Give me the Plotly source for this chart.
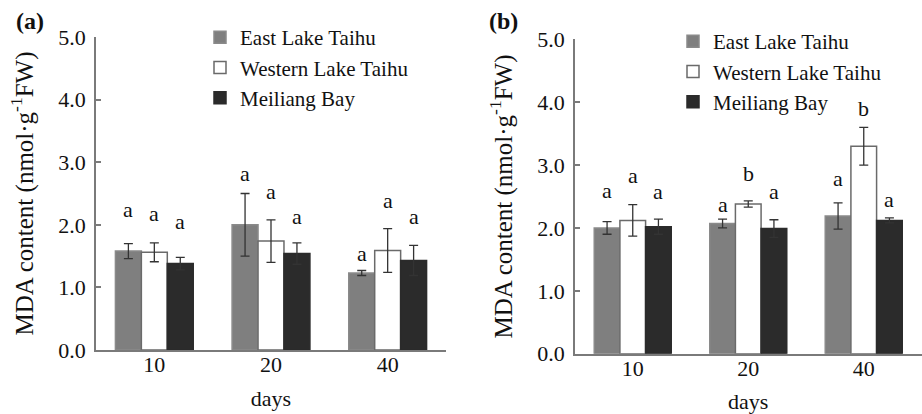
import plotly.graph_objects as go

days = ["10", "20", "40"]
sites = ["East Lake Taihu", "Western Lake Taihu", "Meiliang Bay"]

# Panel (a)
a_east = [1.58, 2.00, 1.23]
a_east_err = [0.12, 0.50, 0.04]
a_west = [1.56, 1.74, 1.59]
a_west_err = [0.15, 0.34, 0.35]
a_meil = [1.38, 1.54, 1.43]
a_meil_err = [0.10, 0.17, 0.24]
a_east_sig = ["a", "a", "a"]
a_west_sig = ["a", "a", "a"]
a_meil_sig = ["a", "a", "a"]
a_east_sig_y = [2.24, 2.82, 1.54]
a_west_sig_y = [2.18, 2.53, 2.39]
a_meil_sig_y = [2.05, 2.14, 2.14]

# Panel (b)
b_east = [2.00, 2.07, 2.19]
b_east_err = [0.10, 0.07, 0.21]
b_west = [2.12, 2.38, 3.30]
b_west_err = [0.25, 0.05, 0.30]
b_meil = [2.02, 1.99, 2.12]
b_meil_err = [0.12, 0.14, 0.04]
b_east_sig = ["a", "a", "a"]
b_west_sig = ["a", "b", "b"]
b_meil_sig = ["a", "a", "a"]
b_east_sig_y = [2.59, 2.38, 2.79]
b_west_sig_y = [2.84, 2.87, 3.90]
b_meil_sig_y = [2.58, 2.58, 2.45]

FONT = "Liberation Serif"
fill_colors = ["#7f7f7f", "#ffffff", "#2b2b2b"]
line_colors = ["#8a8a8a", "#6a6a6a", "#2b2b2b"]
AXIS_COLOR = "#7a7a7a"
ERR_COLOR = "#333333"
TXT = "#111111"
FS = 22
W, H = 922, 414

panels = [
    dict(vals=[a_east, a_west, a_meil], errs=[a_east_err, a_west_err, a_meil_err],
         sig=[a_east_sig, a_west_sig, a_meil_sig], sigy=[a_east_sig_y, a_west_sig_y, a_meil_sig_y],
         xa="x", ya="y", legend="legend"),
    dict(vals=[b_east, b_west, b_meil], errs=[b_east_err, b_west_err, b_meil_err],
         sig=[b_east_sig, b_west_sig, b_meil_sig], sigy=[b_east_sig_y, b_west_sig_y, b_meil_sig_y],
         xa="x2", ya="y2", legend="legend2"),
]

fig = go.Figure()
annotations = []
bargap = 0.333
bar_w = (1 - bargap) / 3
offsets = [-bar_w, 0, bar_w]

for p in panels:
    for k in range(3):
        fig.add_trace(go.Bar(
            x=days, y=p["vals"][k], name=sites[k],
            marker=dict(color=fill_colors[k], line=dict(color=line_colors[k], width=1.5)),
            error_y=dict(type="data", array=p["errs"][k], visible=True,
                         color=ERR_COLOR, thickness=1.3, width=4.5),
            xaxis=p["xa"], yaxis=p["ya"], legend=p["legend"],
        ))
        for i in range(3):
            annotations.append(dict(
                x=i + offsets[k], y=p["sigy"][k][i], text=p["sig"][k][i],
                xref=p["xa"], yref=p["ya"], showarrow=False,
                font=dict(family=FONT, size=FS, color=TXT),
                xanchor="center", yanchor="middle",
            ))

# Panel letters
annotations.append(dict(x=14 / W, y=1 - 21 / H, xref="paper", yref="paper", text="<b>(a)</b>",
                        showarrow=False, xanchor="left", yanchor="middle",
                        font=dict(family=FONT, size=24, color=TXT)))
annotations.append(dict(x=487 / W, y=1 - 21 / H, xref="paper", yref="paper", text="<b>(b)</b>",
                        showarrow=False, xanchor="left", yanchor="middle",
                        font=dict(family=FONT, size=24, color=TXT)))

ytitle = "MDA content (nmol·g<sup>-1</sup>FW)"

def yaxis_cfg(domain, anchor):
    return dict(
        domain=domain, anchor=anchor, range=[0, 5], dtick=1, tickformat=".1f",
        showline=True, linecolor=AXIS_COLOR, linewidth=1.5, automargin=False,
        ticks="inside", ticklen=5, tickcolor=AXIS_COLOR, tickwidth=1.5,
        showgrid=False, zeroline=False, ticklabelstandoff=4,
        tickfont=dict(family=FONT, size=FS, color=TXT),
        title=dict(text=ytitle, font=dict(family=FONT, size=25, color=TXT), standoff=18),
    )

def xaxis_cfg(domain, anchor):
    return dict(
        domain=domain, anchor=anchor, type="category", range=[-0.5, 2.5],
        showline=True, linecolor=AXIS_COLOR, linewidth=1.5, ticks="", automargin=False,
        showgrid=False, zeroline=False, ticklabelstandoff=-6,
        tickfont=dict(family=FONT, size=FS, color=TXT),
        title=dict(text="days", font=dict(family=FONT, size=FS, color=TXT), standoff=14),
    )

legend_common = dict(
    font=dict(family=FONT, size=21, color=TXT), bgcolor="rgba(0,0,0,0)",
    xanchor="left", yanchor="top", borderwidth=0, itemclick=False, itemdoubleclick=False,
    tracegroupgap=0,
)

fig.update_layout(
    width=W, height=H,
    margin=dict(l=0, r=0, t=0, b=0, autoexpand=False),
    paper_bgcolor="white", plot_bgcolor="white",
    barmode="group", bargap=bargap, bargroupgap=0,
    font=dict(family=FONT, color=TXT),
    xaxis=xaxis_cfg([96 / W, 446 / W], "y"),
    yaxis=yaxis_cfg([(H - 350) / H, (H - 37) / H], "x"),
    xaxis2=xaxis_cfg([575 / W, 921.5 / W], "y2"),
    yaxis2=yaxis_cfg([(H - 353.7) / H, (H - 39.3) / H], "x2"),
    legend=dict(x=200 / W, y=1 - 17 / H, **legend_common),
    legend2=dict(x=673 / W, y=1 - 21 / H, **legend_common),
    annotations=annotations,
)

fig.write_html("out.html", config={"displayModeBar": False},
               post_script="document.body.style.margin='0';document.body.style.overflow='hidden';")
